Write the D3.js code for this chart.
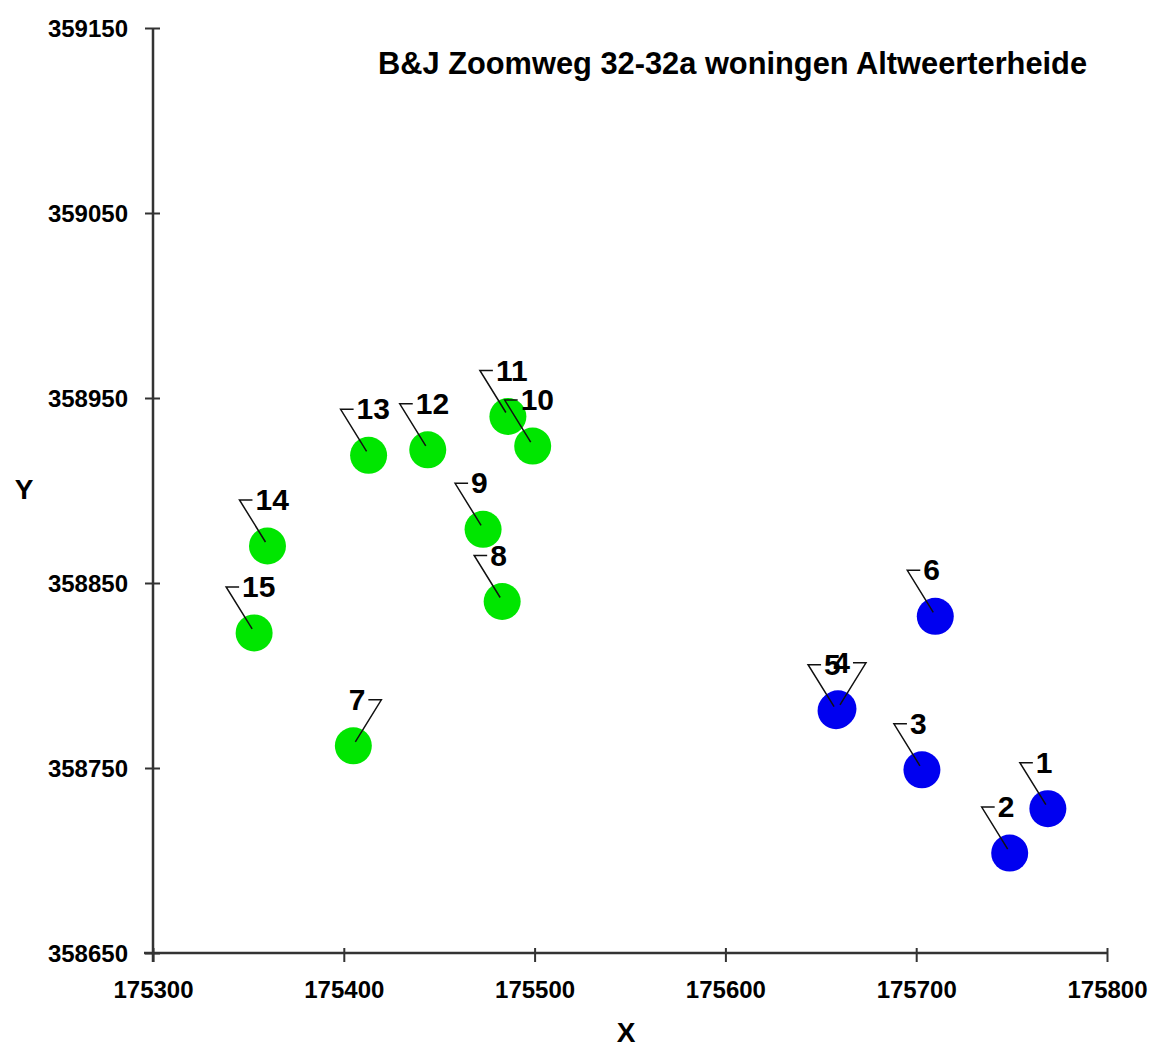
<!DOCTYPE html>
<html>
<head>
<meta charset="utf-8">
<script src="https://cdn.jsdelivr.net/npm/d3@7"></script>
<style>
  html, body { margin: 0; padding: 0; background: #fff; }
  svg { display: block; }
  text { font-family: "Liberation Sans", Arial, sans-serif; font-weight: bold; fill: #000; }
</style>
</head>
<body>
<svg id="chart" width="1151" height="1050"></svg>
<script>
// ---- data ----
const title = "B&J Zoomweg 32-32a woningen Altweerterheide";
const xTitle = "X";
const yTitle = "Y";
const xTicks = [175300, 175400, 175500, 175600, 175700, 175800];
const yTicks = [358650, 358750, 358850, 358950, 359050, 359150];
const labels = ["1","2","3","4","5","6","7","8","9","10","11","12","13","14","15"];
const xValues = [175769, 175749, 175703, 175659, 175658, 175710, 175405, 175483, 175473, 175499, 175486, 175444, 175413, 175360, 175353];
const yValues = [358728, 358704, 358749, 358782, 358781, 358832, 358762, 358840, 358879, 358924, 358940, 358922, 358919, 358870, 358823];
const groups = ["blue","blue","blue","blue","blue","blue","green","green","green","green","green","green","green","green","green"];
const labelSide = ["left","left","left","right","left","left","right","left","left","left","left","left","left","left","left"];

const points = labels.map((l, i) => ({label: l, x: xValues[i], y: yValues[i], g: groups[i], side: labelSide[i]}));

// ---- layout ----
const svg = d3.select("#chart");
const x = d3.scaleLinear().domain([175300, 175800]).range([153, 1107]);
const y = d3.scaleLinear().domain([358650, 359150]).range([953, 28]);
const colors = {blue: "#0000f0", green: "#00e600"};
const axisColor = "#333";

// axes
const xAxis = svg.append("g").attr("transform", `translate(0,${y(358650)})`)
  .call(d3.axisBottom(x).tickValues(xTicks).tickFormat(d3.format("d")).tickSize(5).tickPadding(0));
xAxis.select(".domain").remove();
xAxis.selectAll(".tick line").attr("y1", -5).attr("y2", 9).attr("stroke", axisColor).attr("stroke-width", 2);
xAxis.selectAll(".tick text").attr("y", 45).attr("dy", null).style("font-size", "24px").attr("fill", "#000");

const yAxis = svg.append("g").attr("transform", `translate(${x(175300)},0)`)
  .call(d3.axisLeft(y).tickValues(yTicks).tickFormat(d3.format("d")).tickSize(7));
yAxis.select(".domain").remove();
yAxis.selectAll(".tick line").attr("x1", 7).attr("x2", -8).attr("stroke", axisColor).attr("stroke-width", 2);
yAxis.selectAll(".tick text").attr("x", -25).attr("dy", "0.36em").style("font-size", "24px").attr("fill", "#000");

svg.append("line")
  .attr("x1", x(175300) - 9).attr("x2", x(175800))
  .attr("y1", y(358650)).attr("y2", y(358650))
  .attr("stroke", axisColor).attr("stroke-width", 2.5);
svg.append("line")
  .attr("x1", x(175300)).attr("x2", x(175300))
  .attr("y1", y(359150)).attr("y2", y(358650) + 9)
  .attr("stroke", axisColor).attr("stroke-width", 2.5);

// axis titles and chart title
svg.append("text").attr("x", 626).attr("y", 1042).attr("text-anchor", "middle").style("font-size", "28px").text(xTitle);
svg.append("text").attr("x", 24).attr("y", 499).attr("text-anchor", "middle").style("font-size", "28px").text(yTitle);
svg.append("text").attr("x", 378).attr("y", 74).style("font-size", "30.8px").text(title);

// points
svg.append("g").selectAll("circle").data(points).join("circle")
  .attr("cx", d => x(d.x)).attr("cy", d => y(d.y)).attr("r", 18.5)
  .attr("fill", d => colors[d.g]);

// leader lines
const dx = 28, dy = 46, hl = 13;
svg.append("g").selectAll("polyline").data(points).join("polyline")
  .attr("points", d => {
    const cx = x(d.x), cy = y(d.y), s = d.side === "left" ? -1 : 1;
    return [[cx + s * 2, cy - 4], [cx + s * dx, cy - dy], [cx + s * (dx - hl), cy - dy]].map(p => p.join(",")).join(" ");
  })
  .attr("fill", "none").attr("stroke", "#111").attr("stroke-width", 1.5);

// labels
svg.append("g").selectAll("text").data(points).join("text")
  .attr("x", d => { const cx = x(d.x); return d.side === "left" ? cx - dx + 16 : cx + dx - 16; })
  .attr("y", d => y(d.y) - dy + 10)
  .attr("text-anchor", d => d.side === "left" ? "start" : "end")
  .style("font-size", "30px")
  .text(d => d.label);
</script>
</body>
</html>
